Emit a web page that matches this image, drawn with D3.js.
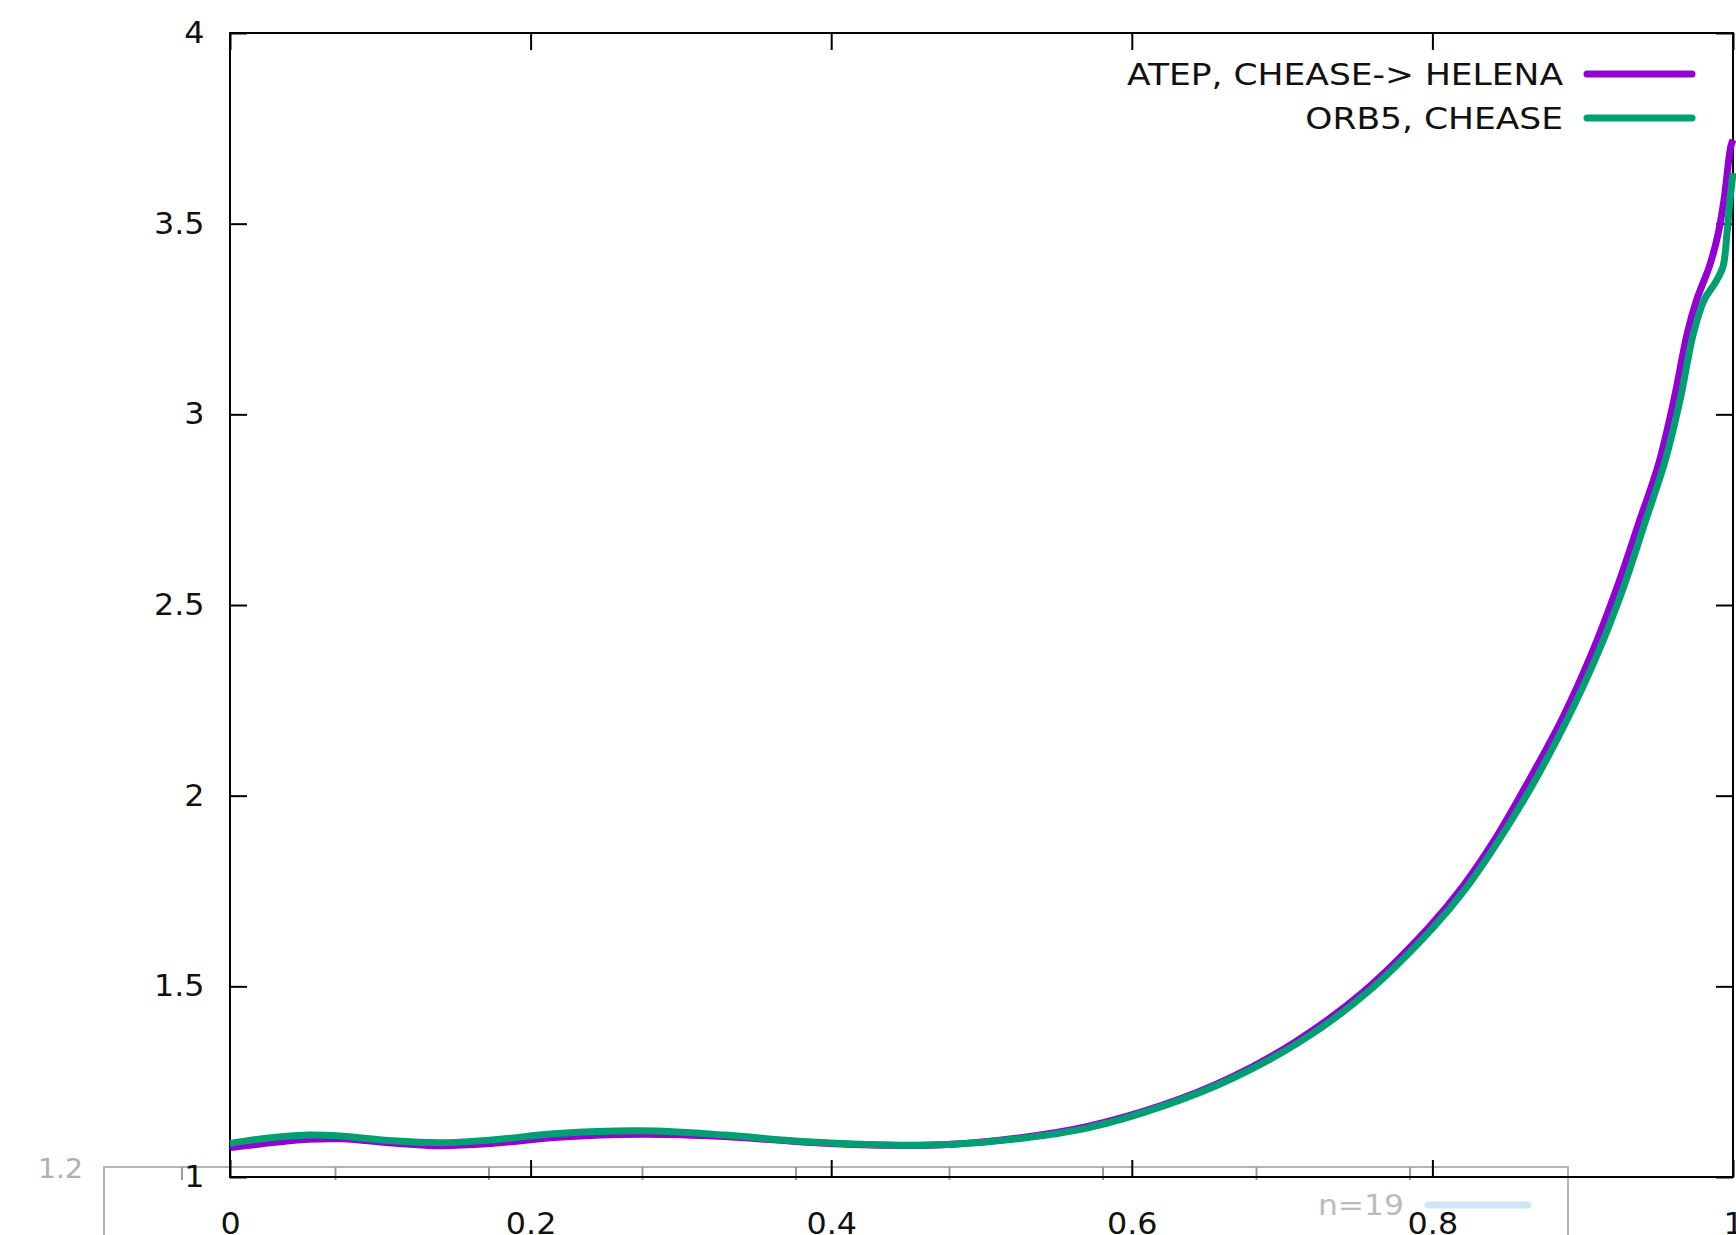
<!DOCTYPE html>
<html>
<head>
<meta charset="utf-8">
<script src="https://cdn.jsdelivr.net/npm/d3@7"></script>
<style>
  body { margin: 0; background: #fff; }
  svg { display: block; font-family: "DejaVu Sans", sans-serif; }
</style>
</head>
<body>
<svg id="chart"></svg>
<script>
// ATEP, CHEASE-> HELENA
const atepX = [0, 0.019, 0.052, 0.075, 0.108, 0.141, 0.174, 0.218, 0.274, 0.329, 0.381, 0.437, 0.481, 0.526, 0.570,
  0.621, 0.665, 0.709, 0.753, 0.797, 0.820, 0.842, 0.862, 0.886, 0.906, 0.923, 0.938, 0.9505, 0.9607, 0.9696,
  0.9758, 0.980, 0.9842, 0.9902, 0.994, 0.9985, 1.0];
const atepY = [1.077, 1.086, 1.099, 1.100, 1.089, 1.082, 1.088, 1.104, 1.112, 1.106, 1.092, 1.083, 1.086, 1.103, 1.132,
  1.189, 1.259, 1.355, 1.482, 1.652, 1.761, 1.888, 2.024, 2.199, 2.373, 2.548, 2.723, 2.870, 3.038, 3.213,
  3.300, 3.344, 3.387, 3.475, 3.562, 3.702, 3.720];

// ORB5, CHEASE
const orbX = [0, 0.019, 0.052, 0.075, 0.108, 0.141, 0.174, 0.218, 0.274, 0.329, 0.381, 0.437, 0.481, 0.526, 0.570,
  0.623, 0.667, 0.712, 0.756, 0.800, 0.823, 0.845, 0.866, 0.8896, 0.910, 0.9273, 0.942, 0.955, 0.9648, 0.9737,
  0.9808, 0.988, 0.9933, 0.996, 0.998, 1.0];
const orbY = [1.088, 1.099, 1.110, 1.107, 1.095, 1.090, 1.097, 1.114, 1.121, 1.110, 1.093, 1.084, 1.086, 1.101, 1.128,
  1.189, 1.259, 1.355, 1.482, 1.652, 1.761, 1.888, 2.024, 2.199, 2.373, 2.548, 2.723, 2.880, 3.038, 3.213,
  3.300, 3.344, 3.387, 3.475, 3.562, 3.633];

const seriesNames = ["ATEP, CHEASE-> HELENA", "ORB5, CHEASE"];
const seriesColors = ["#9400d3", "#009e73"];

const xTicks = [0, 0.2, 0.4, 0.6, 0.8, 1];
const xTickLabels = ["0", "0.2", "0.4", "0.6", "0.8", "1"];
const yTicks = [1, 1.5, 2, 2.5, 3, 3.5, 4];
const yTickLabels = ["1", "1.5", "2", "2.5", "3", "3.5", "4"];

// stray frame of another plot peeking in at the bottom
const ghostLabel = "1.2";
const ghostKey = "n=19";

const width = 1736, height = 1235;
const margin = { top: 33, right: 3, bottom: 58, left: 230 };
const innerWidth = width - margin.left - margin.right;
const innerHeight = height - margin.top - margin.bottom;

const svg = d3.select("#chart").attr("width", width).attr("height", height);

const x = d3.scaleLinear().domain([0, 1]).range([0, innerWidth]);
const y = d3.scaleLinear().domain([1, 4]).range([innerHeight, 0]);

// ghost box (behind everything)
const ghost = svg.append("g").attr("class", "ghost");
ghost.append("rect")
  .attr("x", 104).attr("y", 1167)
  .attr("width", 1464).attr("height", 120)
  .attr("fill", "none").attr("stroke", "#b4b4b4").attr("stroke-width", 2);
const ghostX = d3.scaleLinear().domain([0, 8]).range([182, 1410]);
ghost.selectAll("line.gt")
  .data(d3.range(9))
  .join("line")
  .attr("class", "gt")
  .attr("x1", d => ghostX(d)).attr("x2", d => ghostX(d))
  .attr("y1", 1167).attr("y2", 1180)
  .attr("stroke", "#9a9a9a").attr("stroke-width", 2);
ghost.append("text")
  .attr("transform", "translate(83,1168) scale(1.05,1)")
  .attr("dy", "0.36em")
  .attr("text-anchor", "end")
  .attr("fill", "#b0b0b0").style("font-size", "27px")
  .text(ghostLabel);
ghost.append("text")
  .attr("transform", "translate(1404,1205) scale(1.12,1)")
  .attr("dy", "0.36em")
  .attr("text-anchor", "end")
  .attr("fill", "#bbbbbb").style("font-size", "28px")
  .text(ghostKey);
ghost.append("line")
  .attr("x1", 1428).attr("x2", 1528).attr("y1", 1205).attr("y2", 1205)
  .attr("stroke", "#cfe6f5").attr("stroke-width", 7).attr("stroke-linecap", "round");

const g = svg.append("g").attr("transform", `translate(${margin.left},${margin.top})`);

const tickLen = 17;
const styleAxis = sel => {
  sel.attr("font-family", null).attr("font-size", null);
  sel.select(".domain").remove();
  sel.selectAll(".tick line").attr("stroke", "#000").attr("stroke-width", 2);
  sel.selectAll(".tick text").attr("fill", "#111").style("font-size", "30px");
};

g.append("g")
  .attr("transform", `translate(0,${innerHeight})`)
  .call(d3.axisBottom(x).tickValues(xTicks).tickFormat((d, i) => xTickLabels[i])
    .tickSize(-tickLen).tickPadding(36))
  .call(styleAxis)
  .call(a => a.selectAll(".tick text").attr("transform", "scale(1.06,1)"));

g.append("g")
  .call(d3.axisTop(x).tickValues(xTicks).tickFormat("").tickSize(-tickLen))
  .call(styleAxis);

g.append("g")
  .call(d3.axisLeft(y).tickValues(yTicks).tickFormat((d, i) => yTickLabels[i])
    .tickSize(-tickLen).tickPadding(24))
  .call(styleAxis)
  .call(a => a.selectAll(".tick text").attr("transform", "scale(1.06,1)"));

g.append("g")
  .attr("transform", `translate(${innerWidth},0)`)
  .call(d3.axisRight(y).tickValues(yTicks).tickFormat("").tickSize(-tickLen))
  .call(styleAxis);

g.append("rect")
  .attr("width", innerWidth).attr("height", innerHeight)
  .attr("fill", "none").attr("stroke", "#000").attr("stroke-width", 2);

const line = d3.line()
  .x(d => x(d[0]))
  .y(d => y(d[1]))
  .curve(d3.curveCatmullRom.alpha(0.5));

const series = [
  d3.zip(atepX, atepY),
  d3.zip(orbX, orbY)
];

g.selectAll("path.curve")
  .data(series)
  .join("path")
  .attr("class", "curve")
  .attr("d", line)
  .attr("fill", "none")
  .attr("stroke", (d, i) => seriesColors[i])
  .attr("stroke-width", 7)
  .attr("stroke-linejoin", "round");

// legend, top right
const legend = svg.append("g").attr("transform", "translate(1563,74)");
seriesNames.forEach((name, i) => {
  const row = legend.append("g").attr("transform", `translate(0,${i * 44})`);
  row.append("text")
    .attr("transform", "scale(1.15,1)")
    .attr("text-anchor", "end").attr("dy", "0.36em")
    .attr("fill", "#111")
    .style("font-size", "30px")
    .text(name);
  row.append("line")
    .attr("x1", 24).attr("x2", 129)
    .attr("stroke", seriesColors[i]).attr("stroke-width", 7).attr("stroke-linecap", "round");
});
</script>
</body>
</html>
